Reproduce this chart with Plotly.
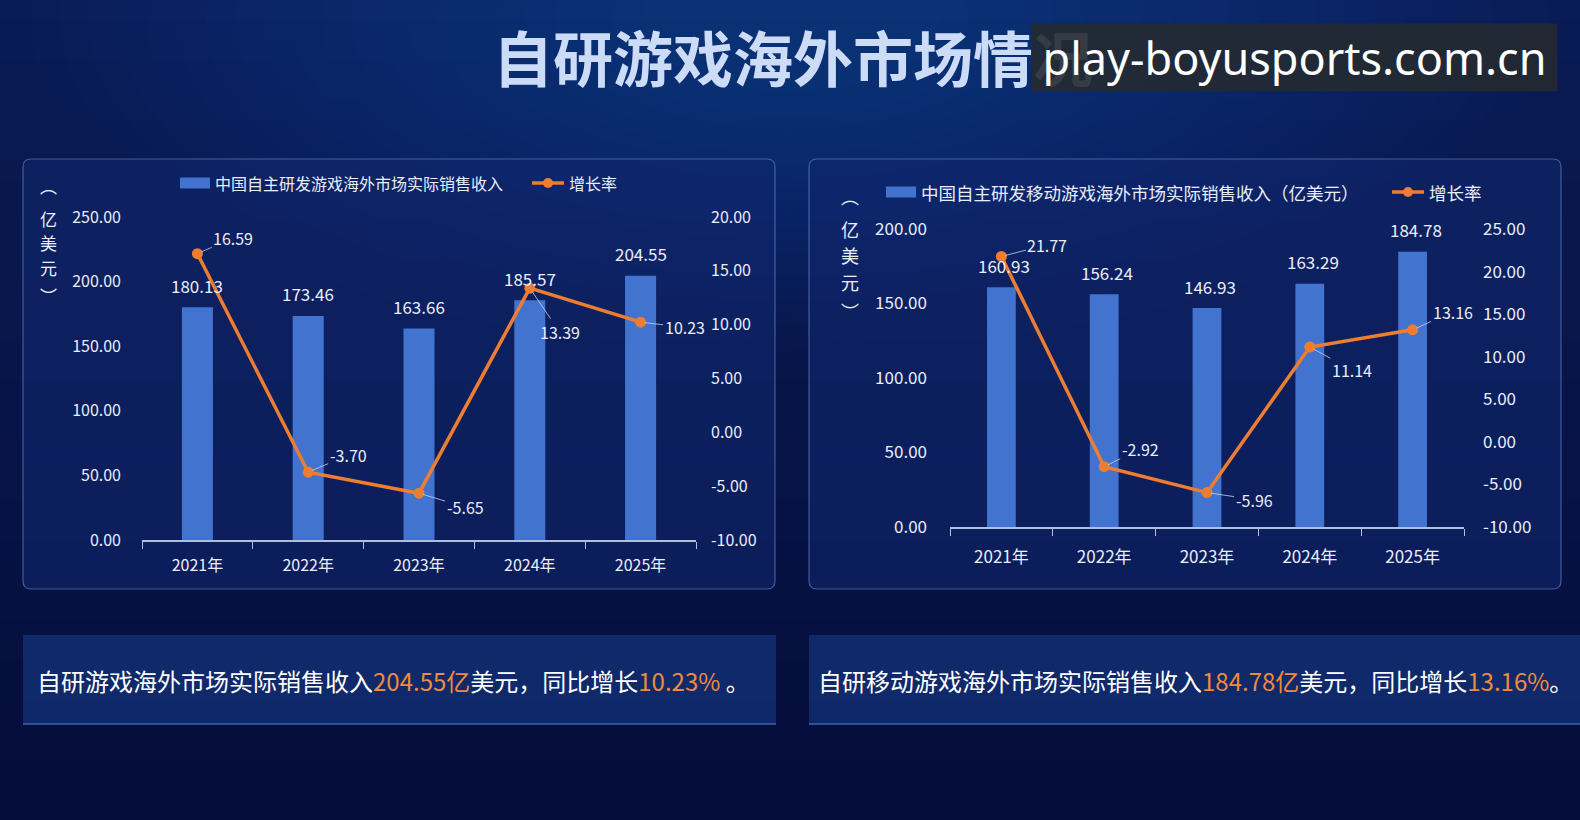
import plotly.graph_objects as go

# ---------------- data ----------------
years = ["2021年", "2022年", "2023年", "2024年", "2025年"]
game_rev = [180.13, 173.46, 163.66, 185.57, 204.55]
game_growth = [16.59, -3.70, -5.65, 13.39, 10.23]
mobile_rev = [160.93, 156.24, 146.93, 163.29, 184.78]
mobile_growth = [21.77, -2.92, -5.96, 11.14, 13.16]

left_rev_ticks = [0, 50, 100, 150, 200, 250]
left_rate_ticks = [-10, -5, 0, 5, 10, 15, 20]
right_rev_ticks = [0, 50, 100, 150, 200]
right_rate_ticks = [-10, -5, 0, 5, 10, 15, 20, 25]

left_bar_name = "中国自主研发游戏海外市场实际销售收入"
right_bar_name = "中国自主研发移动游戏海外市场实际销售收入（亿美元）"
line_name = "增长率"
unit_chars = ["︵", "亿", "美", "元", "︶"]
title_text = "自研游戏海外市场情况"
watermark_text = "play-boyusports.com.cn"
left_summary = ("自研游戏海外市场实际销售收入<span style='color:#F08A3C'>204.55亿</span>"
                "美元，同比增长<span style='color:#F08A3C'>10.23%</span> 。")
right_summary = ("自研移动游戏海外市场实际销售收入<span style='color:#F08A3C'>184.78亿</span>"
                 "美元，同比增长<span style='color:#F08A3C'>13.16%</span>。")

# ---------------- layout helpers ----------------
W, H = 1580, 820
FONT = "Noto Sans CJK SC"
BAR_C = "#4273CF"
LINE_C = "#ED7D31"
TXT_C = "#E8EEFA"
AX_C = "#AEBFDF"


def fx(x):
    return x / W


def fy(y):
    return 1 - y / H


def rrect(x0, y0, x1, y1, r):
    rx, ry = r / W, r / H
    X0, X1 = fx(x0), fx(x1)
    Y0, Y1 = fy(y0), fy(y1)
    return (f"M{X0+rx},{Y0} L{X1-rx},{Y0} Q{X1},{Y0} {X1},{Y0-ry} "
            f"L{X1},{Y1+ry} Q{X1},{Y1} {X1-rx},{Y1} L{X0+rx},{Y1} "
            f"Q{X0},{Y1} {X0},{Y1+ry} L{X0},{Y0-ry} Q{X0},{Y0} {X0+rx},{Y0} Z")


def fmt(v):
    return f"{v:.2f}"


shapes = []
annotations = []

# background gradient (overlapping stripes to avoid seams)
top = (10, 28, 86)
bot = (5, 13, 58)
N = 41
for i in range(N):
    t = i / (N - 1)
    c = tuple(int(top[k] + (bot[k] - top[k]) * t) for k in range(3))
    shapes.append(dict(type="rect", xref="paper", yref="paper", layer="below",
                       x0=0, x1=1, y0=1 - (i + 1.6) / N, y1=1 - i / N,
                       fillcolor=f"rgb{c}", line=dict(width=0)))
# soft glow near title
G = 22
for j in range(G):
    s = 1 - j / G
    rx, ry = 120 + 640 * s, 60 + 270 * s
    shapes.append(dict(type="circle", xref="paper", yref="paper", layer="below",
                       x0=fx(790 - rx), x1=fx(790 + rx), y0=fy(20 + ry), y1=fy(20 - ry),
                       fillcolor="rgba(45,110,200,0.02)", line=dict(width=0)))

# panels
for (x0, x1) in [(23, 775), (809, 1561)]:
    shapes.append(dict(type="path", xref="paper", yref="paper", layer="below",
                       path=rrect(x0, 159, x1, 589, 8),
                       fillcolor="rgba(16,38,108,0.6)",
                       line=dict(color="rgba(110,145,215,0.55)", width=1.2)))
# summary boxes
for (x0, x1) in [(23, 776), (809, 1580)]:
    shapes.append(dict(type="rect", xref="paper", yref="paper", layer="below",
                       x0=fx(x0), x1=fx(x1), y0=fy(724), y1=fy(635),
                       fillcolor="rgba(18,48,118,0.8)", line=dict(width=0)))
    shapes.append(dict(type="line", xref="paper", yref="paper", layer="below",
                       x0=fx(x0), x1=fx(x1), y0=fy(724), y1=fy(724),
                       line=dict(color="rgba(55,95,175,0.8)", width=2)))


def ann(x, y, text, size, color=TXT_C, family=FONT, xanchor="center", **kw):
    d = dict(xref="paper", yref="paper", x=fx(x), y=fy(y), xanchor=xanchor,
             yanchor="middle", showarrow=False, text=text,
             font=dict(family=family, size=size, color=color))
    d.update(kw)
    annotations.append(d)


# legends (manual)
def legend(xr, yc, xl, txt_bar, fs):
    shapes.append(dict(type="rect", xref="paper", yref="paper",
                       x0=fx(xr), x1=fx(xr + 30), y0=fy(yc + 5.5), y1=fy(yc - 5.5),
                       fillcolor=BAR_C, line=dict(width=0)))
    ann(xr + 33, yc, txt_bar, fs, xanchor="left")
    shapes.append(dict(type="line", xref="paper", yref="paper",
                       x0=fx(xl), x1=fx(xl + 32), y0=fy(yc), y1=fy(yc),
                       line=dict(color=LINE_C, width=3.5)))
    shapes.append(dict(type="circle", xref="paper", yref="paper",
                       x0=fx(xl + 16 - 5), x1=fx(xl + 16 + 5), y0=fy(yc + 5), y1=fy(yc - 5),
                       fillcolor=LINE_C, line=dict(width=0)))
    ann(xl + 35, yc, line_name, fs, xanchor="left")


legend(180, 183, 532, left_bar_name, 16)
legend(886, 192, 1392, right_bar_name, 17.5)

# unit labels (vertical)
for ch, yy in zip(unit_chars, [186, 218, 242, 267, 295]):
    ann(48, yy, ch, 17)
for ch, yy in zip(unit_chars, [196, 229, 255, 282, 311]):
    ann(850, yy, ch, 18)

# title + watermark (watermark box drawn over title)
ann(793, 55, "<b>" + title_text + "</b>", 60, color="#CCDBF6")
ann(1294.5, 57.5, watermark_text, 45, color="#FFFFFF", family="Noto Sans",
    width=521, height=63, borderpad=2, bgcolor="rgba(37,42,49,0.9)", align="center",
    valign="middle")

# summaries
ann(35, 680, left_summary, 24, color="#FFFFFF", xanchor="left")
ann(816, 680, right_summary, 24, color="#FFFFFF", xanchor="left")

# ---------------- traces ----------------
fig = go.Figure()
fig.add_trace(go.Bar(x=years, y=game_rev, xaxis="x", yaxis="y", width=0.28,
                     marker=dict(color=BAR_C, line=dict(width=0)), name=left_bar_name))
fig.add_trace(go.Scatter(x=years, y=game_growth, xaxis="x", yaxis="y2", mode="lines+markers",
                         line=dict(color=LINE_C, width=3.5), marker=dict(size=11, color=LINE_C),
                         name=line_name))
fig.add_trace(go.Bar(x=years, y=mobile_rev, xaxis="x2", yaxis="y3", width=0.28,
                     marker=dict(color=BAR_C, line=dict(width=0)), name=right_bar_name))
fig.add_trace(go.Scatter(x=years, y=mobile_growth, xaxis="x2", yaxis="y4", mode="lines+markers",
                         line=dict(color=LINE_C, width=3.5), marker=dict(size=11, color=LINE_C),
                         name=line_name))

# value labels
for yr, v in zip(years, game_rev):
    annotations.append(dict(xref="x", yref="y", x=yr, y=v, yshift=22, showarrow=False,
                            xanchor="center", yanchor="middle",
                            text=fmt(v), font=dict(family=FONT, size=17, color=TXT_C)))
for yr, v in zip(years, mobile_rev):
    annotations.append(dict(xref="x2", yref="y3", x=yr, y=v, yshift=22, xshift=3, showarrow=False,
                            xanchor="center", yanchor="middle",
                            text=fmt(v), font=dict(family=FONT, size=17, color=TXT_C)))

left_off = [(36, -16), (40, -17), (46, 14), (30, 44), (44, 5)]
right_off = [(46, -12), (36, -18), (47, 7), (42, 23), (40, -18)]
for xa, ya, vals, offs in [("x", "y2", game_growth, left_off), ("x2", "y4", mobile_growth, right_off)]:
    for yr, v, (ax, ay) in zip(years, vals, offs):
        annotations.append(dict(xref=xa, yref=ya, x=yr, y=v, ax=ax, ay=ay, showarrow=True,
                                arrowhead=0, arrowwidth=1, arrowcolor="rgba(200,212,235,0.8)",
                                standoff=4, text=fmt(v),
                                font=dict(family=FONT, size=16, color=TXT_C)))

xcommon = dict(showline=True, linecolor=AX_C, linewidth=1.5, ticks="outside",
               tickson="boundaries", ticklen=7, tickcolor=AX_C, tickwidth=1.2,
               showgrid=False, zeroline=False, fixedrange=True, automargin=False,
               range=[-0.5, 4.5], autorange=False)
ycommon = dict(showgrid=False, zeroline=False, showline=False, ticks="",
               fixedrange=True, automargin=False)


def yticks(vals):
    return dict(tickvals=vals, ticktext=[fmt(v) for v in vals])


fig.update_layout(
    template="none",
    width=W, height=H, margin=dict(l=0, r=0, t=0, b=0, pad=0, autoexpand=False),
    paper_bgcolor="#0A1A52", plot_bgcolor="rgba(0,0,0,0)",
    showlegend=False, bargap=0.7,
    xaxis=dict(domain=[fx(142), fx(696)], anchor="y",
               tickfont=dict(family=FONT, size=16, color=TXT_C), ticklabelstandoff=10, **xcommon),
    yaxis=dict(domain=[fy(540), fy(217)], anchor="x", range=[0, 250], **yticks(left_rev_ticks),
               tickfont=dict(family=FONT, size=16, color=TXT_C), ticklabelstandoff=20, **ycommon),
    yaxis2=dict(overlaying="y", anchor="x", side="right", range=[-10, 20], **yticks(left_rate_ticks),
                tickfont=dict(family=FONT, size=16, color=TXT_C), ticklabelstandoff=14, **ycommon),
    xaxis2=dict(domain=[fx(950), fx(1464)], anchor="y3",
                tickfont=dict(family=FONT, size=17, color=TXT_C), ticklabelstandoff=14, **xcommon),
    yaxis3=dict(domain=[fy(527), fy(229)], anchor="x2", range=[0, 200], **yticks(right_rev_ticks),
                tickfont=dict(family=FONT, size=17, color=TXT_C), ticklabelstandoff=22, **ycommon),
    yaxis4=dict(overlaying="y3", anchor="x2", side="right", range=[-10, 25], **yticks(right_rate_ticks),
                tickfont=dict(family=FONT, size=17, color=TXT_C), ticklabelstandoff=18, **ycommon),
    shapes=shapes, annotations=annotations,
)

fig.write_html("out.html")
